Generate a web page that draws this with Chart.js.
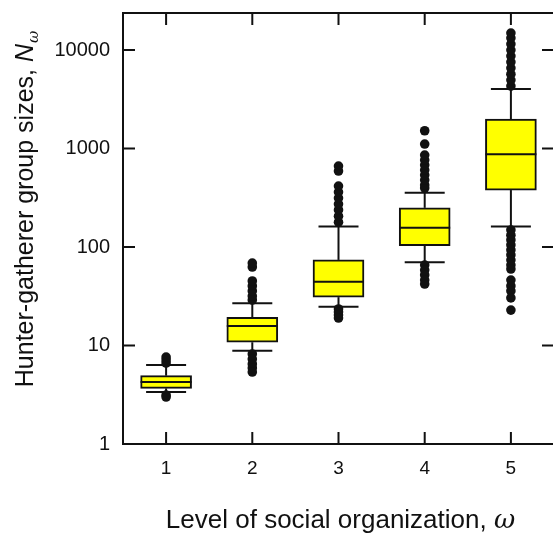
<!DOCTYPE html>
<html>
<head>
<meta charset="utf-8">
<script src="https://cdn.jsdelivr.net/npm/chart.js@4.4.1/dist/chart.umd.min.js"></script>
<style>
  html, body { margin: 0; padding: 0; background: #fff; overflow: hidden; }
  #wrap { width: 560px; height: 536px; }
</style>
</head>
<body>
<div id="wrap"><canvas id="boxChart" width="560" height="536"></canvas></div>
<script>
// levels of social organization
const levels = [1, 2, 3, 4, 5];

// box statistics
const q1 = [3.67, 10.8, 31, 103, 379];
const medians = [4.26, 15.8, 44.5, 157, 873];
const q3 = [4.94, 19.3, 74, 250, 1995];
const whiskerLow = [3.37, 8.85, 24.8, 70, 162];
const whiskerHigh = [6.34, 26.8, 162, 356, 4020];

// outliers per level
const outliers1 = [6.64, 7.13, 7.64, 3.14, 3.0];
const outliers2 = [29.0, 31.8, 35.8, 40.2, 45.2, 62.7, 68.8, 8.2, 7.29, 6.49, 5.91, 5.38];
const outliers3 = [179, 206, 238, 273, 314, 362, 416, 591, 664, 23.5, 21.9, 20.4, 19.0];
const outliers4 = [397, 426, 479, 538, 605, 680, 764, 859, 1111, 1517, 65.6, 58.4, 52, 46.2, 42.1];
const outliers5 = [4310, 4960, 5700, 6560, 7550, 8690, 10000, 11510, 13240, 14890,
                   149, 132, 118, 105, 93.3, 83, 73.8, 65.6, 59.8, 46.2, 40.2, 35.8, 30.4, 22.9];
const outliers = [outliers1, outliers2, outliers3, outliers4, outliers5];

// axis ticks
const yTicks = [1, 10, 100, 1000, 10000];
const xTicks = [1, 2, 3, 4, 5];

const boxColor = '#ffff00';
const ink = '#111111';
const fontFamily = '"Liberation Sans", Arial, sans-serif';

const boxData = levels.map((lv, i) => ({ x: lv, y: [q1[i], q3[i]] }));
const outlierData = [];
levels.forEach((lv, i) => {
    for (const v of outliers[i]) outlierData.push({ x: lv, y: v });
});

//* whiskers, caps, medians, frame and inward ticks
const boxExtras = {
    id: 'boxExtras',
    beforeDatasetsDraw(chart) {
        const { ctx, scales: { x, y } } = chart;
        ctx.save();
        ctx.strokeStyle = ink;
        ctx.lineWidth = 2;
        const capHalf = 20;
        levels.forEach((lv, i) => {
            const px = x.getPixelForValue(lv);
            const segs = [[q3[i], whiskerHigh[i]], [q1[i], whiskerLow[i]]];
            for (const [a, b] of segs) {
                ctx.beginPath();
                ctx.moveTo(px, y.getPixelForValue(a));
                ctx.lineTo(px, y.getPixelForValue(b));
                ctx.stroke();
                const py = y.getPixelForValue(b);
                ctx.beginPath();
                ctx.moveTo(px - capHalf, py);
                ctx.lineTo(px + capHalf, py);
                ctx.stroke();
            }
        });
        ctx.restore();
    },
    afterDatasetsDraw(chart) {
        const { ctx, chartArea: area, scales: { x, y } } = chart;
        ctx.save();
        ctx.strokeStyle = ink;
        // medians
        ctx.lineWidth = 2;
        const boxHalf = 25.5;
        levels.forEach((lv, i) => {
            const px = x.getPixelForValue(lv);
            const py = y.getPixelForValue(medians[i]);
            ctx.beginPath();
            ctx.moveTo(px - boxHalf, py);
            ctx.lineTo(px + boxHalf, py);
            ctx.stroke();
        });
        // frame
        ctx.lineWidth = 2;
        ctx.strokeRect(area.left, area.top, area.right - area.left, area.bottom - area.top);
        // inward ticks
        const tl = 12;
        ctx.beginPath();
        for (const v of yTicks) {
            const py = y.getPixelForValue(v);
            ctx.moveTo(area.left, py); ctx.lineTo(area.left + tl, py);
            ctx.moveTo(area.right, py); ctx.lineTo(area.right - tl, py);
        }
        for (const v of xTicks) {
            const px = x.getPixelForValue(v);
            ctx.moveTo(px, area.bottom); ctx.lineTo(px, area.bottom - tl);
            ctx.moveTo(px, area.top); ctx.lineTo(px, area.top + tl);
        }
        ctx.stroke();
        ctx.restore();
    },
    afterDraw(chart) {
        const { ctx, chartArea: area } = chart;
        ctx.save();
        ctx.fillStyle = ink;
        ctx.textBaseline = 'alphabetic';
        const greek = '"DejaVu Serif", serif';
        // x title
        const xSize = 26;
        const xMain = 'Level of social organization, ';
        const xSym = '\u03c9';
        ctx.font = xSize + 'px ' + fontFamily;
        const w1 = ctx.measureText(xMain).width;
        ctx.font = 'italic ' + xSize + 'px ' + greek;
        const w2 = ctx.measureText(xSym).width;
        const sx = (area.left + area.right) / 2 + 2 - (w1 + w2) / 2;
        ctx.font = xSize + 'px ' + fontFamily;
        ctx.fillText(xMain, sx, 528);
        ctx.font = 'italic ' + xSize + 'px ' + greek;
        ctx.fillText(xSym, sx + w1, 528);

        // y title, rotated
        const size = 25;
        const yMain = 'Hunter-gatherer group sizes, ';
        const yN = 'N';
        const ySub = '\u03c9';
        const subSize = 15;
        ctx.font = size + 'px ' + fontFamily;
        const a1 = ctx.measureText(yMain).width;
        ctx.font = 'italic ' + size + 'px ' + fontFamily;
        const a2 = ctx.measureText(yN).width;
        ctx.font = 'italic ' + subSize + 'px ' + greek;
        const a3 = ctx.measureText(ySub).width;
        const total = a1 + a2 + a3 + 1;
        ctx.translate(33, 209);
        ctx.rotate(-Math.PI / 2);
        const tx = -total / 2;
        ctx.font = size + 'px ' + fontFamily;
        ctx.fillText(yMain, tx, 0);
        ctx.font = 'italic ' + size + 'px ' + fontFamily;
        ctx.fillText(yN, tx + a1, 0);
        ctx.font = 'italic ' + subSize + 'px ' + greek;
        ctx.fillText(ySub, tx + a1 + a2 + 1, 5);
        ctx.restore();
    }
};

const config = {
    type: 'bar',
    data: {
        datasets: [{
            type: 'scatter',
            label: 'Outliers',
            data: outlierData,
            backgroundColor: ink,
            borderColor: ink,
            pointRadius: 4.8,
            pointBorderWidth: 0,
            order: 0
        }, {
            type: 'bar',
            label: 'Boxes',
            data: boxData,
            backgroundColor: boxColor,
            borderColor: ink,
            borderWidth: 2,
            borderSkipped: false,
            barThickness: 51,
            order: 1
        }]
    },
    options: {
        responsive: false,
        animation: false,
        events: [],
        layout: { padding: { top: 13, right: 6, left: 0, bottom: 0 } },
        plugins: {
            legend: { display: false },
            tooltip: { enabled: false },
            title: { display: false }
        },
        scales: {
            x: {
                type: 'linear',
                min: 0.5,
                max: 5.5,
                offset: false,
                grid: { display: false, drawTicks: false },
                border: { display: false },
                afterBuildTicks: s => { s.ticks = xTicks.map(v => ({ value: v })); },
                afterFit: s => { s.height = 92; s.paddingLeft = 0; s.paddingRight = 0; },
                ticks: {
                    padding: 13,
                    color: ink,
                    font: { family: fontFamily, size: 19 },
                    callback: v => String(v)
                }
            },
            y: {
                type: 'logarithmic',
                min: 1,
                max: 23800,
                grid: { display: false, drawTicks: false },
                border: { display: false },
                afterBuildTicks: s => { s.ticks = yTicks.map(v => ({ value: v })); },
                afterFit: s => { s.width = 123; s.paddingTop = 0; s.paddingBottom = 0; },
                ticks: {
                    padding: 13,
                    color: ink,
                    font: { family: fontFamily, size: 20 },
                    callback: v => String(v)
                }
            }
        }
    },
    plugins: [boxExtras]
};

new Chart(document.getElementById('boxChart'), config);
</script>
</body>
</html>
